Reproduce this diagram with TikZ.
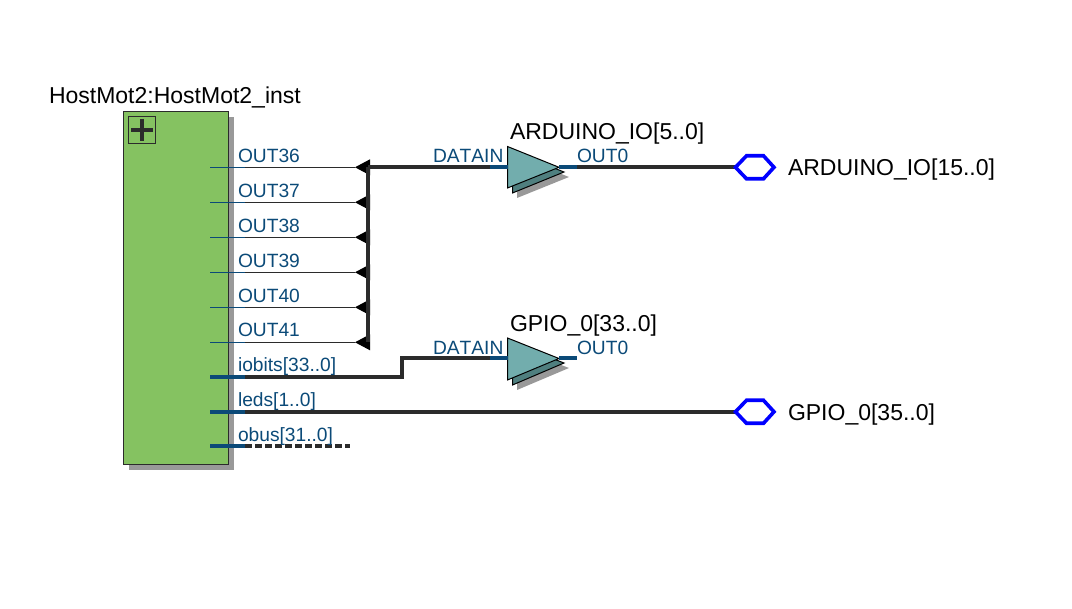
\documentclass[tikz,border=0pt]{standalone}
\usepackage{fontspec}
\setmainfont[Kerning=Off]{Liberation Sans}
\definecolor{pinblue}{HTML}{0B4A78}
\definecolor{wire}{HTML}{2B2B2B}
\definecolor{boxgreen}{HTML}{85C261}
\definecolor{gatecol}{HTML}{72ADAD}
\definecolor{gateb}{HTML}{4F7F7F}
\definecolor{shadowcol}{HTML}{999999}
\tikzset{
  lbl/.style={font=\fontsize{19.2}{19.2}\selectfont,text=pinblue,anchor=base west,inner sep=0pt,outer sep=0pt},
  ttl/.style={font=\fontsize{23}{23}\selectfont,text=black,anchor=base west,inner sep=0pt,outer sep=0pt},
  thin wire/.style={draw=wire,line width=1.2pt},
  bus wire/.style={draw=wire,line width=4pt},
  thin stub/.style={draw=pinblue,line width=1.2pt},
  bus stub/.style={draw=pinblue,line width=4pt},
  hexpin/.style={draw=blue,line width=3.6pt,fill=white,miter limit=4,line join=miter},
  gatebody/.style={draw=black,line width=1pt,fill=gatecol},
}
\begin{document}
\begin{tikzpicture}[x=1pt,y=-1pt]
\useasboundingbox (0,0) rectangle (1072,609);
% block
\fill[shadowcol] (129,117) rectangle (234,470);
\node[draw=wire,line width=1pt,fill=boxgreen,minimum width=105pt,minimum height=353pt,inner sep=0pt,outer sep=0pt] (block) at (176,288) {};
\node[draw=wire,line width=1pt,minimum width=27pt,minimum height=27pt,inner sep=0pt] (plus) at (142,130) {};
\draw[wire,line width=4pt] (plus.center) +(-11,0) -- +(11,0);
\draw[wire,line width=4pt] (plus.center) +(0,-11) -- +(0,11);
\node[ttl] (title) at (49,104) {HostMot2:HostMot2\_inst};
% pin ends
\foreach \n/\y/\b in {36/167.3/162.7,37/202.3/197.7,38/237.3/232.7,39/272.3/267.7,40/307.3/302.7,41/342.3/336.7}{
  \coordinate (s\n) at (210,\y);
  \coordinate (e\n) at (245,\y);
  \coordinate (t\n) at (355,\y);
  \coordinate (j\n) at (368,\y);
  \draw[thin wire] (e\n) -- (t\n);
  \draw[thin stub] (s\n) -- (e\n);
  \node[lbl] (l\n) at (238,\b) {OUT\n};
}
\foreach \n in {36,37,38,39,40,41}{
  \fill[black] (t\n) -- ++(15,-8) -- ++(0,16) -- cycle;
}
% right-hand elements
\node[ttl] (gt1) at (510,140) {ARDUINO\_IO[5..0]};
\node[ttl] (gt2) at (510,332) {GPIO\_0[33..0]};
% gate 1
\fill[shadowcol] (517,156.5) -- (569,177) -- (517,198) -- cycle;
\draw[line width=1pt,draw=black,fill=gateb] (512.5,151.5) -- (564,172) -- (512.5,193) -- cycle;
\coordinate (g1in) at (507.5,167.3);
\coordinate (g1out) at (559,167.3);
\coordinate (g1a) at (490,167.3);
\coordinate (g1b) at (577,167.3);
\draw[gatebody] (507.5,146.5) -- (g1out) -- (507.5,188) -- cycle;
% gate 2
\fill[shadowcol] (517,348) -- (569,368) -- (517,390) -- cycle;
\draw[line width=1pt,draw=black,fill=gateb] (512.5,343) -- (564,363) -- (512.5,385) -- cycle;
\coordinate (g2in) at (507.5,358.5);
\coordinate (g2out) at (559,358.5);
\coordinate (g2a) at (490,358.5);
\coordinate (g2b) at (577,358.5);
\draw[gatebody] (507.5,338) -- (g2out) -- (507.5,380) -- cycle;
% hex pins
\node[ttl] (h1) at (788,176) {ARDUINO\_IO[15..0]};
\node[ttl] (h2) at (788,421) {GPIO\_0[35..0]};
\coordinate (hx1) at (735.5,167.3);
\coordinate (hx2) at (735.5,411.8);
\draw[bus wire] (j36) -- (j41);
\draw[bus wire] (j36) -- (g1a);
\draw[bus stub] (g1a) -- (g1in);
\draw[bus stub] (g1out) -- (g1b);
\draw[bus wire] (g1b) -- (hx1);
\draw[hexpin] (hx1) -- ++(11,-11.5) -- ++(17,0) -- ++(10.5,11.5) -- ++(-10.5,11.5) -- ++(-17,0) -- cycle;
% bus pins
\coordinate (s1) at (210,376.8);
\coordinate (e1) at (245,376.8);
\coordinate (k1) at (402,376.8);
\coordinate (k2) at (402,358.5);
\draw[bus wire,line join=miter] (e1) -- (k1) -- (k2) -- (g2a);
\draw[bus stub] (s1) -- (e1);
\draw[bus stub] (g2a) -- (g2in);
\draw[bus stub] (g2out) -- (g2b);
\node[lbl] (l1) at (238,372) {iobits[33..0]};
\coordinate (s2) at (210,411.8);
\coordinate (e2) at (245,411.8);
\draw[bus wire] (e2) -- (hx2);
\draw[bus stub] (s2) -- (e2);
\draw[hexpin] (hx2) -- ++(11,-11.5) -- ++(17,0) -- ++(10.5,11.5) -- ++(-10.5,11.5) -- ++(-17,0) -- cycle;
\node[lbl] (l2) at (238,407) {leds[1..0]};
\coordinate (s3) at (210,445.8);
\coordinate (e3) at (245,445.8);
\coordinate (f3) at (350,445.8);
\draw[bus wire,dash pattern=on 6.5pt off 3.5pt] (e3) -- (f3);
\draw[bus stub] (s3) -- (e3);
\node[lbl] (l3) at (238,442) {obus[31..0]};
\node[lbl] (d1) at (433,163) {DATAIN};
\node[lbl] (o1) at (577,163) {OUT0};
\node[lbl] (d2) at (433,354.5) {DATAIN};
\node[lbl] (o2) at (577,354.5) {OUT0};
\end{tikzpicture}
\end{document}
